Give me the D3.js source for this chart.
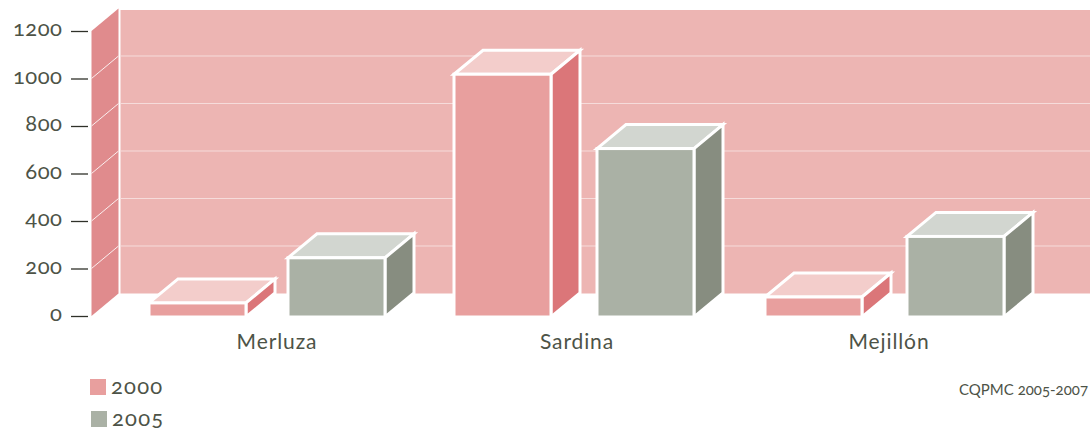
<!DOCTYPE html>
<html>
<head>
<meta charset="utf-8">
<script src="https://cdnjs.cloudflare.com/ajax/libs/d3/7.8.5/d3.min.js"></script>
<style>
html, body { margin: 0; padding: 0; background: #fff; }
svg { display: block; }
text { font-family: "Lato", sans-serif; fill: #4d5347; }
.nums text, text.nums { font-variant-numeric: oldstyle-nums; }
</style>
</head>
<body>
<div id="draw"></div>
<script>
// datos
var categories = ["Merluza", "Sardina", "Mejillón"];
var years = ["2000", "2005"];
var values2000 = [55, 1018, 80];
var values2005 = [245, 705, 335];
var yTicks = [0, 200, 400, 600, 800, 1000, 1200];
var source = "CQPMC 2005-2007";

var w = 1090, h = 432;
var depthX = 29, depthY = 24;   // fondo de las barras
var wallX = 27, wallY = 22.5;   // fondo de la pared

var colors = {
    "2000": {front: "#e89f9e", top: "#f3cdcb", side: "#db7679"},
    "2005": {front: "#aab1a5", top: "#d2d6d0", side: "#878d80"}
};

var svg = d3.select("#draw")
    .append("svg")
    .attr("width", w)
    .attr("height", h);

var y = d3.scaleLinear().domain([0, 1200]).range([316, 31]);

// cada barra tiene su sitio
var x = d3.scaleOrdinal()
    .domain(["Merluza/2000", "Merluza/2005", "Sardina/2000", "Sardina/2005", "Mejillón/2000", "Mejillón/2005"])
    .range([149, 288, 454, 597, 765, 907]);
var barW = 97;

var labelX = d3.scaleOrdinal().domain(categories).range([277, 577, 889]);

// pared del fondo
var x0 = 91.5;
var x1 = x0 + wallX;
svg.append("rect")
    .attr("x", x1 + 2)
    .attr("y", y(1200) - wallY + 1.5)
    .attr("width", w - x1 - 2)
    .attr("height", y(0) - y(1200) + 0.5 - 2)
    .attr("fill", "#edb5b3");
svg.append("path")
    .attr("d", d3.line()([
        [x0, y(1200)], [x1, y(1200) - wallY], [x1, y(0) - wallY], [x0, y(0)]
    ]))
    .attr("fill", "#e08b8d");

// rejilla
svg.selectAll("line.grid")
    .data(yTicks.filter(function(d) { return d > 0 && d < 1200; }))
    .enter()
    .append("line")
    .attr("class", "grid")
    .attr("x1", x1 + 2)
    .attr("x2", w)
    .attr("y1", function(d) { return y(d) - wallY; })
    .attr("y2", function(d) { return y(d) - wallY; })
    .attr("stroke", "#f6dcdb")
    .attr("stroke-width", 1);
svg.selectAll("line.gridside")
    .data(yTicks.filter(function(d) { return d > 0 && d < 1200; }))
    .enter()
    .append("line")
    .attr("class", "gridside")
    .attr("x1", x0)
    .attr("x2", x1)
    .attr("y1", function(d) { return y(d); })
    .attr("y2", function(d) { return y(d) - wallY; })
    .attr("stroke", "#fbeeee")
    .attr("stroke-width", 1);

// eje
var axis = d3.axisLeft(y).tickValues(yTicks).tickSize(17).tickPadding(8.5).tickFormat(d3.format("d"));
var gAxis = svg.append("g")
    .attr("class", "nums")
    .attr("transform", "translate(88,0)")
    .call(axis);
gAxis.select(".domain").remove();
gAxis.selectAll("line").attr("stroke", "#2f3129").attr("stroke-width", 1.3);
gAxis.selectAll("text")
    .attr("font-family", "Lato")
    .attr("font-size", 22)
    .attr("dy", "0.22em")
    .style("letter-spacing", "0.5px");

// barras
var bars = [];
categories.forEach(function(c, i) {
    bars.push({cat: c, year: "2000", value: values2000[i]});
    bars.push({cat: c, year: "2005", value: values2005[i]});
});

var g = svg.selectAll("g.bar")
    .data(bars)
    .enter()
    .append("g")
    .attr("class", "bar")
    .attr("stroke", "#fff")
    .attr("stroke-width", 3)
    .attr("stroke-linejoin", "miter");

g.append("path")
    .attr("d", function(d) {
        var l = x(d.cat + "/" + d.year), t = y(d.value);
        return d3.line()([[l, t], [l + depthX, t - depthY], [l + barW + depthX, t - depthY], [l + barW, t]]) + "Z";
    })
    .attr("fill", function(d) { return colors[d.year].top; });
g.append("path")
    .attr("d", function(d) {
        var r = x(d.cat + "/" + d.year) + barW, t = y(d.value), b = y(0) + 1;
        return d3.line()([[r, t], [r + depthX, t - depthY], [r + depthX, b - depthY], [r, b]]) + "Z";
    })
    .attr("fill", function(d) { return colors[d.year].side; });
g.append("rect")
    .attr("x", function(d) { return x(d.cat + "/" + d.year); })
    .attr("y", function(d) { return y(d.value); })
    .attr("width", barW)
    .attr("height", function(d) { return y(0) + 1 - y(d.value); })
    .attr("fill", function(d) { return colors[d.year].front; });

// categorias
svg.selectAll("text.cat")
    .data(categories)
    .enter()
    .append("text")
    .attr("class", "cat")
    .text(function(d) { return d; })
    .attr("x", function(d) { return labelX(d); })
    .attr("y", 349)
    .attr("text-anchor", "middle")
    .attr("font-size", 21)
    .style("letter-spacing", "0.9px");

// leyenda
var legendY = d3.scaleOrdinal().domain(years).range([379, 411]);
var legendX = d3.scaleOrdinal().domain(years).range([90, 91]);
svg.selectAll("rect.legend")
    .data(years)
    .enter()
    .append("rect")
    .attr("class", "legend")
    .attr("x", function(d) { return legendX(d); })
    .attr("y", function(d) { return legendY(d); })
    .attr("width", 16)
    .attr("height", 16)
    .attr("fill", function(d) { return colors[d].front; });
svg.selectAll("text.legend")
    .data(years)
    .enter()
    .append("text")
    .attr("class", "legend nums")
    .text(function(d) { return d; })
    .attr("x", function(d) { return legendX(d) + 21; })
    .attr("y", function(d) { return legendY(d) + 15; })
    .attr("font-size", 22)
    .style("letter-spacing", "1.2px");

// fuente
svg.append("text")
    .attr("class", "nums")
    .text(source)
    .attr("x", 1088)
    .attr("y", 395)
    .attr("text-anchor", "end")
    .attr("font-size", 15);
</script>
</body>
</html>
